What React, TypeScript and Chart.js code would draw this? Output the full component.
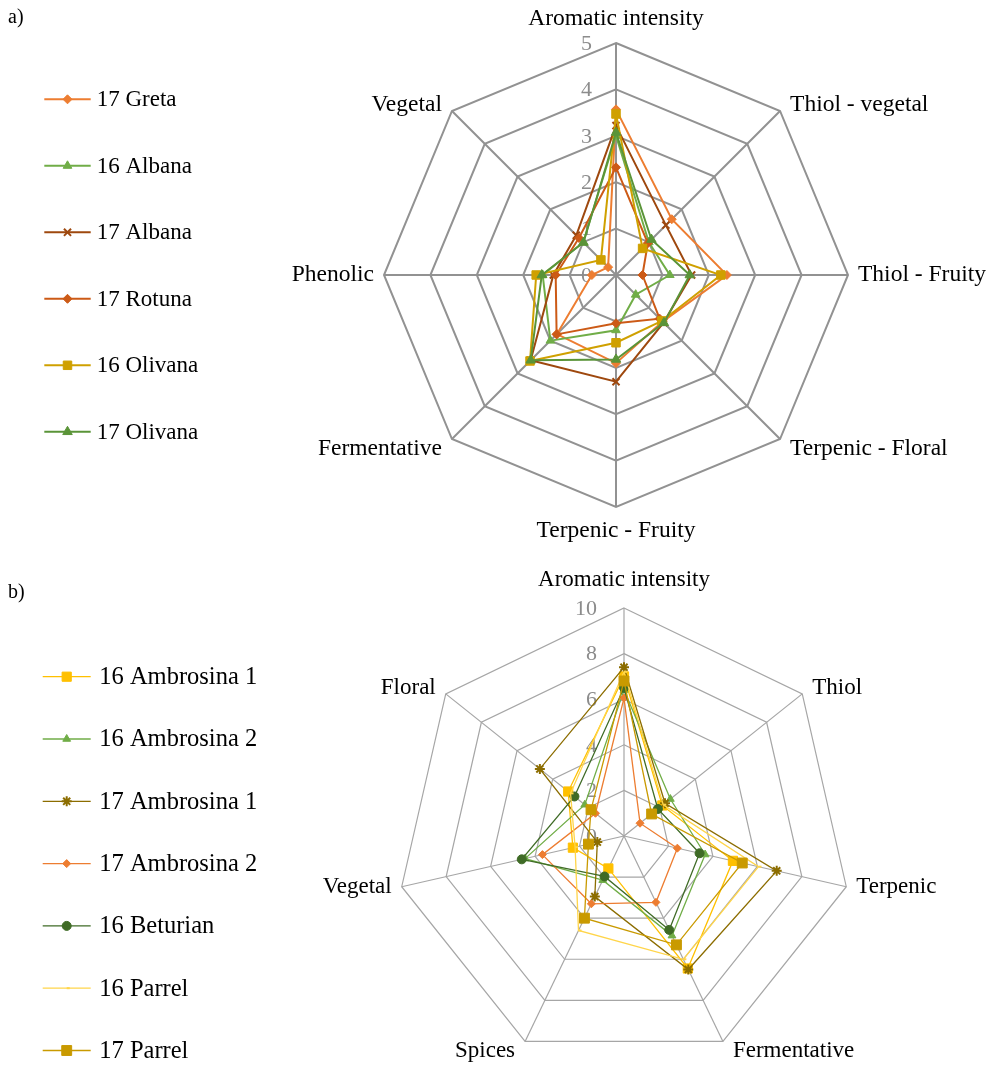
import React, { useEffect, useRef } from 'react';
import { Chart, registerables } from 'chart.js';
import { drawPoint } from 'chart.js/helpers';

Chart.register(...registerables);

// ---------- Panel a) ----------
const axesA = ['Aromatic intensity', 'Thiol - vegetal', 'Thiol - Fruity', 'Terpenic - Floral', 'Terpenic - Fruity', 'Fermentative', 'Phenolic', 'Vegetal'];
const namesA = ['17 Greta', '16 Albana', '17 Albana', '17 Rotuna', '16 Olivana', '17 Olivana'];
const greta17 = [3.57, 1.7, 2.39, 1.42, 1.9, 1.8, 0.52, 0.24];
const albana16 = [3.0, 1.0, 1.16, 0.6, 1.19, 2.0, 1.58, 1.0];
const albana17 = [3.22, 1.52, 1.63, 1.45, 2.3, 2.6, 1.35, 1.21];
const rotuna17 = [2.32, 0.97, 0.57, 1.33, 1.04, 1.81, 1.3, 1.13];
const olivana16 = [3.47, 0.81, 2.26, 1.4, 1.46, 2.62, 1.72, 0.46];
const olivana17 = [3.07, 1.08, 1.59, 1.46, 1.82, 2.6, 1.6, 0.99];
const valuesA = [greta17, albana16, albana17, rotuna17, olivana16, olivana17];
const ticksA = [0, 1, 2, 3, 4, 5];

// ---------- Panel b) ----------
const axesB = ['Aromatic intensity', 'Thiol', 'Terpenic', 'Fermentative', 'Spices', 'Vegetal', 'Floral'];
const namesB = ['16 Ambrosina 1', '16 Ambrosina 2', '17 Ambrosina 1', '17 Ambrosina 2', '16 Beturian', '16 Parrel', '17 Parrel'];
const ambrosina1_16 = [7.0, 2.15, 4.9, 6.45, 1.58, 2.3, 3.13];
const ambrosina2_16 = [6.4, 2.6, 3.65, 4.85, 2.15, 4.45, 2.2];
const ambrosina1_17 = [7.4, 2.3, 6.87, 6.5, 2.95, 1.2, 4.72];
const ambrosina2_17 = [6.05, 0.9, 2.4, 3.23, 3.3, 3.67, 1.6];
const beturian16 = [6.5, 1.9, 3.4, 4.57, 1.97, 4.6, 2.78];
const parrel16 = [7.2, 2.2, 6.05, 6.0, 4.6, 2.2, 3.0];
const parrel17 = [6.8, 1.55, 5.32, 5.3, 4.0, 1.6, 1.85];
const valuesB = [ambrosina1_16, ambrosina2_16, ambrosina1_17, ambrosina2_17, beturian16, parrel16, parrel17];
const ticksB = [0, 2, 4, 6, 8, 10];

// ---------- styles ----------
const colorsA = ['#ED7D31', '#70AD47', '#9E480E', '#CC5A16', '#CFA000', '#5A9438'];
const stylesA = ['rectRot', 'triangle', 'crossRot', 'rectRot', 'rect', 'triangle'];
const radiiA = [4.5, 5, 5, 4.5, 6, 5.5];

const colorsB = ['#FFC000', '#70AD47', '#8C6D00', '#ED7D31', '#3F6B26', '#FFD54A', '#C99A00'];
const stylesB = ['rect', 'triangle', 'star', 'rectRot', 'circle', 'dash', 'rect'];
const radiiB = [6.5, 4.5, 5, 4, 4.5, 3, 7];

const FONT = '"Liberation Serif", "Times New Roman", serif';
const W = 987;

type PanelCfg = {
  letter: string;
  letterX: number;
  letterY: number;
  axes: string[];
  names: string[];
  values: number[][];
  colors: string[];
  styles: string[];
  radii: number[];
  ticks: number[];
  max: number;
  step: number;
  padding: { left: number; top: number; right: number; bottom: number };
  gridColor: string;
  gridWidth: number;
  lineWidth: number;
  tickDx: number;
  labelFont: number;
  legendFont: number;
  topLabelDy: number;
  bottomLabelDy: number;
  legendY0: number;
  legendDy: number;
  legendX0: number;
  legendX1: number;
  legendTextX: number;
  height: number;
  top: number;
};

function makeOverlay(cfg: PanelCfg) {
  return {
    id: 'overlay' + cfg.letter,
    beforeDatasetsDraw(chart: any) {
      const ctx = chart.ctx;
      const scale = chart.scales.r;
      ctx.save();
      ctx.font = `22px ${FONT}`;
      ctx.fillStyle = '#8C8C8C';
      ctx.textAlign = 'right';
      ctx.textBaseline = 'middle';
      cfg.ticks.forEach((v) => {
        const d = scale.getDistanceFromCenterForValue(v);
        ctx.fillText(String(v), scale.xCenter + cfg.tickDx, scale.yCenter - d + 1);
      });
      ctx.restore();
    },
    afterDraw(chart: any) {
      const ctx = chart.ctx;
      const scale = chart.scales.r;
      ctx.save();
      // axis labels
      ctx.font = `${cfg.labelFont}px ${FONT}`;
      ctx.fillStyle = '#000';
      ctx.textBaseline = 'middle';
      cfg.axes.forEach((lab, i) => {
        const p = scale.getPointPosition(i, scale.drawingArea);
        const a = scale.getIndexAngle(i);
        const dx = Math.sin(a);
        const dy = -Math.cos(a);
        let ox = 0;
        let oy = 0;
        if (Math.abs(dx) < 0.1) {
          ctx.textAlign = 'center';
          oy = dy < 0 ? cfg.topLabelDy : cfg.bottomLabelDy;
        } else {
          ctx.textAlign = dx > 0 ? 'left' : 'right';
          ox = dx > 0 ? 10 : -10;
          oy = dy < -0.3 ? -6 : dy > 0.3 ? 10 : 0;
        }
        ctx.fillText(lab, p.x + ox, p.y + oy);
      });
      // legend
      ctx.textAlign = 'left';
      chart.data.datasets.forEach((ds: any, i: number) => {
        const y = cfg.legendY0 + cfg.legendDy * i;
        ctx.strokeStyle = ds.borderColor;
        ctx.lineWidth = ds.borderWidth;
        ctx.beginPath();
        ctx.moveTo(cfg.legendX0, y);
        ctx.lineTo(cfg.legendX1, y);
        ctx.stroke();
        ctx.fillStyle = ds.borderColor;
        ctx.lineWidth = ds.pointBorderWidth;
        drawPoint(ctx, { pointStyle: ds.pointStyle, rotation: 0, radius: ds.pointRadius, borderWidth: ds.pointBorderWidth } as any, (cfg.legendX0 + cfg.legendX1) / 2, y);
        ctx.fillStyle = '#000';
        ctx.font = `${cfg.legendFont}px ${FONT}`;
        ctx.fillText(ds.label, cfg.legendTextX, y + 1);
      });
      // panel letter
      ctx.font = `20px ${FONT}`;
      ctx.fillStyle = '#000';
      ctx.fillText(cfg.letter, cfg.letterX, cfg.letterY);
      ctx.restore();
    },
  };
}

function RadarPanel({ cfg }: { cfg: PanelCfg }) {
  const ref = useRef<HTMLCanvasElement | null>(null);
  useEffect(() => {
    const n = cfg.values.length;
    const chart = new Chart(ref.current as HTMLCanvasElement, {
      type: 'radar',
      data: {
        labels: cfg.axes,
        datasets: cfg.values.map((vals, i) => ({
          label: cfg.names[i],
          data: vals,
          borderColor: cfg.colors[i],
          backgroundColor: cfg.colors[i],
          borderWidth: cfg.lineWidth,
          fill: false,
          pointStyle: cfg.styles[i] as any,
          pointRadius: cfg.radii[i],
          pointBackgroundColor: cfg.colors[i],
          pointBorderColor: cfg.colors[i],
          pointBorderWidth: cfg.styles[i] === 'crossRot' || cfg.styles[i] === 'star' || cfg.styles[i] === 'dash' ? 2 : 1,
          order: n - 1 - i,
        })),
      },
      options: {
        responsive: false,
        animation: false,
        devicePixelRatio: 1,
        events: [],
        layout: { padding: cfg.padding },
        elements: { line: { tension: 0 } },
        plugins: {
          legend: { display: false },
          tooltip: { enabled: false },
          title: { display: false },
        },
        scales: {
          r: {
            min: 0,
            max: cfg.max,
            beginAtZero: true,
            ticks: { display: false, stepSize: cfg.step },
            pointLabels: { display: false },
            grid: { color: cfg.gridColor, lineWidth: cfg.gridWidth },
            angleLines: { color: cfg.gridColor, lineWidth: cfg.gridWidth },
          },
        },
      } as any,
      plugins: [makeOverlay(cfg)],
    });
    return () => chart.destroy();
  }, []);
  return (
    <canvas
      ref={ref}
      width={W}
      height={cfg.height}
      style={{ position: 'absolute', left: 0, top: cfg.top, width: W, height: cfg.height, display: 'block' }}
    />
  );
}

const cfgA: PanelCfg = {
  letter: 'a)',
  letterX: 8,
  letterY: 18,
  axes: axesA,
  names: namesA,
  values: valuesA,
  colors: colorsA,
  styles: stylesA,
  radii: radiiA,
  ticks: ticksA,
  max: 5,
  step: 1,
  padding: { left: 384, top: 43, right: 139, bottom: 61 },
  gridColor: '#929292',
  gridWidth: 2,
  lineWidth: 2,
  tickDx: -24,
  labelFont: 23.5,
  legendFont: 23,
  topLabelDy: -24,
  bottomLabelDy: 24,
  legendY0: 99.3,
  legendDy: 66.5,
  legendX0: 44.3,
  legendX1: 90.7,
  legendTextX: 96.7,
  height: 568,
  top: 0,
};

const cfgB: PanelCfg = {
  letter: 'b)',
  letterX: 8,
  letterY: 25,
  axes: axesB,
  names: namesB,
  values: valuesB,
  colors: colorsB,
  styles: stylesB,
  radii: radiiB,
  ticks: ticksB,
  max: 10,
  step: 2,
  padding: { left: 396, top: 40, right: 135, bottom: 2 },
  gridColor: '#A6A6A6',
  gridWidth: 1.2,
  lineWidth: 1.3,
  tickDx: -27,
  labelFont: 23,
  legendFont: 24.5,
  topLabelDy: -28,
  bottomLabelDy: 24,
  legendY0: 108.7,
  legendDy: 62.3,
  legendX0: 42.7,
  legendX1: 90.7,
  legendTextX: 99.3,
  height: 498,
  top: 568,
};

export default function App() {
  return (
    <div style={{ position: 'fixed', left: 0, top: 0, width: W, height: 1066, overflow: 'hidden', background: '#fff' }}>
      <RadarPanel cfg={cfgA} />
      <RadarPanel cfg={cfgB} />
    </div>
  );
}
